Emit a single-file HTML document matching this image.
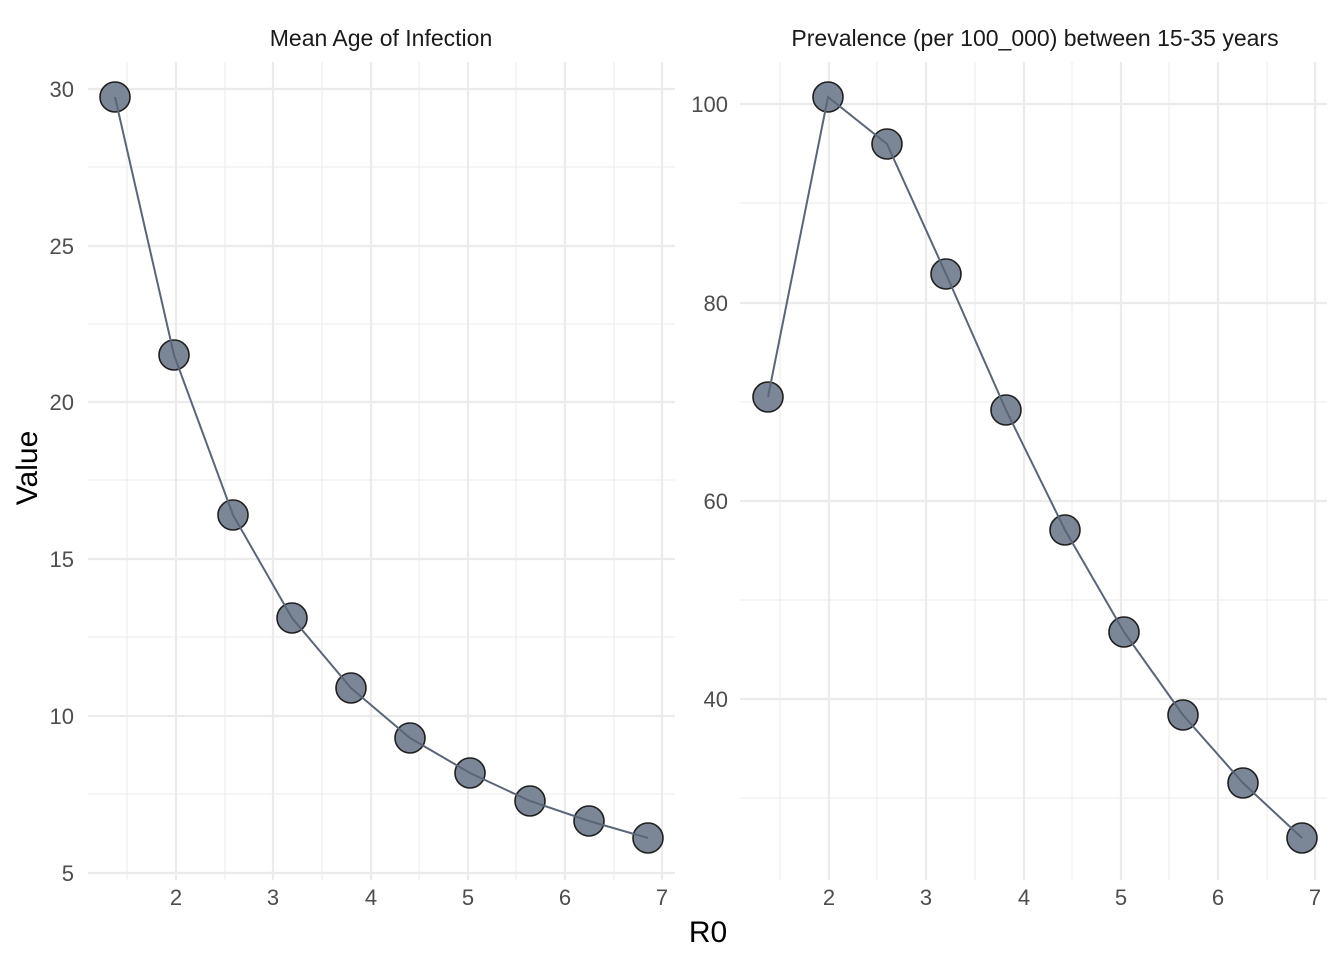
<!DOCTYPE html>
<html><head><meta charset="utf-8"><style>
html,body{margin:0;padding:0;background:#fff;}
svg text{font-family:"Liberation Sans",sans-serif;}
</style></head><body>
<svg width="1344" height="960" viewBox="0 0 1344 960" xmlns="http://www.w3.org/2000/svg">
<g stroke="#ebebeb" stroke-width="1">
<line x1="88" x2="675" y1="167" y2="167"/><line x1="88" x2="675" y1="324" y2="324"/><line x1="88" x2="675" y1="480" y2="480"/><line x1="88" x2="675" y1="637" y2="637"/><line x1="88" x2="675" y1="794" y2="794"/>
<line x1="127" x2="127" y1="62" y2="880"/><line x1="225" x2="225" y1="62" y2="880"/><line x1="322" x2="322" y1="62" y2="880"/><line x1="419" x2="419" y1="62" y2="880"/><line x1="516" x2="516" y1="62" y2="880"/><line x1="614" x2="614" y1="62" y2="880"/>
<line x1="740" x2="1327" y1="203" y2="203"/><line x1="740" x2="1327" y1="402" y2="402"/><line x1="740" x2="1327" y1="600" y2="600"/><line x1="740" x2="1327" y1="798" y2="798"/>
<line x1="780" x2="780" y1="62" y2="880"/><line x1="877" x2="877" y1="62" y2="880"/><line x1="975" x2="975" y1="62" y2="880"/><line x1="1072" x2="1072" y1="62" y2="880"/><line x1="1169" x2="1169" y1="62" y2="880"/><line x1="1267" x2="1267" y1="62" y2="880"/>
</g>
<g stroke="#ebebeb" stroke-width="2.2">
<line x1="88" x2="675" y1="89" y2="89"/><line x1="88" x2="675" y1="246" y2="246"/><line x1="88" x2="675" y1="402" y2="402"/><line x1="88" x2="675" y1="559" y2="559"/><line x1="88" x2="675" y1="716" y2="716"/><line x1="88" x2="675" y1="873" y2="873"/>
<line x1="176" x2="176" y1="62" y2="880"/><line x1="273" x2="273" y1="62" y2="880"/><line x1="371" x2="371" y1="62" y2="880"/><line x1="468" x2="468" y1="62" y2="880"/><line x1="565" x2="565" y1="62" y2="880"/><line x1="662" x2="662" y1="62" y2="880"/>
<line x1="740" x2="1327" y1="104" y2="104"/><line x1="740" x2="1327" y1="303" y2="303"/><line x1="740" x2="1327" y1="501" y2="501"/><line x1="740" x2="1327" y1="699" y2="699"/>
<line x1="829" x2="829" y1="62" y2="880"/><line x1="926" x2="926" y1="62" y2="880"/><line x1="1024" x2="1024" y1="62" y2="880"/><line x1="1121" x2="1121" y1="62" y2="880"/><line x1="1218" x2="1218" y1="62" y2="880"/><line x1="1315" x2="1315" y1="62" y2="880"/>
</g>
<g fill="#7b8696" stroke="#1f1f1f" stroke-width="1.6">
<circle cx="115" cy="97" r="15"/><circle cx="174" cy="355" r="15"/><circle cx="233" cy="515" r="15"/><circle cx="292" cy="618" r="15"/><circle cx="351" cy="688" r="15"/><circle cx="410" cy="738" r="15"/><circle cx="470" cy="773" r="15"/><circle cx="530" cy="801" r="15"/><circle cx="589" cy="821" r="15"/><circle cx="648" cy="838" r="15"/>
<circle cx="768" cy="397" r="15"/><circle cx="828" cy="97" r="15"/><circle cx="887" cy="144" r="15"/><circle cx="946" cy="274" r="15"/><circle cx="1006" cy="410" r="15"/><circle cx="1065" cy="530" r="15"/><circle cx="1124" cy="632" r="15"/><circle cx="1183" cy="715" r="15"/><circle cx="1243" cy="783" r="15"/><circle cx="1302" cy="838" r="15"/>
</g>
<g fill="none" stroke="#5a6678" stroke-width="2">
<polyline points="115,97 174,355 233,515 292,618 351,688 410,738 470,773 530,801 589,821 648,838"/>
<polyline points="768,397 828,97 887,144 946,274 1006,410 1065,530 1124,632 1183,715 1243,783 1302,838"/>
</g>
<g font-size="23" fill="#1a1a1a" text-anchor="middle">
<text x="381" y="46">Mean Age of Infection</text>
<text x="1035" y="46">Prevalence (per 100_000) between 15-35 years</text>
</g>
<g font-size="22" fill="#4d4d4d" text-anchor="end">
<text x="74" y="97">30</text><text x="74" y="254">25</text><text x="74" y="410">20</text><text x="74" y="567">15</text><text x="74" y="724">10</text><text x="74" y="881">5</text>
<text x="728" y="112">100</text><text x="728" y="311">80</text><text x="728" y="509">60</text><text x="728" y="707">40</text>
</g>
<g font-size="22" fill="#4d4d4d" text-anchor="middle">
<text x="176" y="905">2</text><text x="273" y="905">3</text><text x="371" y="905">4</text><text x="468" y="905">5</text><text x="565" y="905">6</text><text x="662" y="905">7</text>
<text x="829" y="905">2</text><text x="926" y="905">3</text><text x="1024" y="905">4</text><text x="1121" y="905">5</text><text x="1218" y="905">6</text><text x="1315" y="905">7</text>
</g>
<text x="708" y="942" font-size="30" fill="#000" text-anchor="middle">R0</text>
<text x="0" y="0" font-size="30" fill="#000" text-anchor="middle" transform="translate(37,468) rotate(-90)">Value</text>
</svg>
</body></html>
